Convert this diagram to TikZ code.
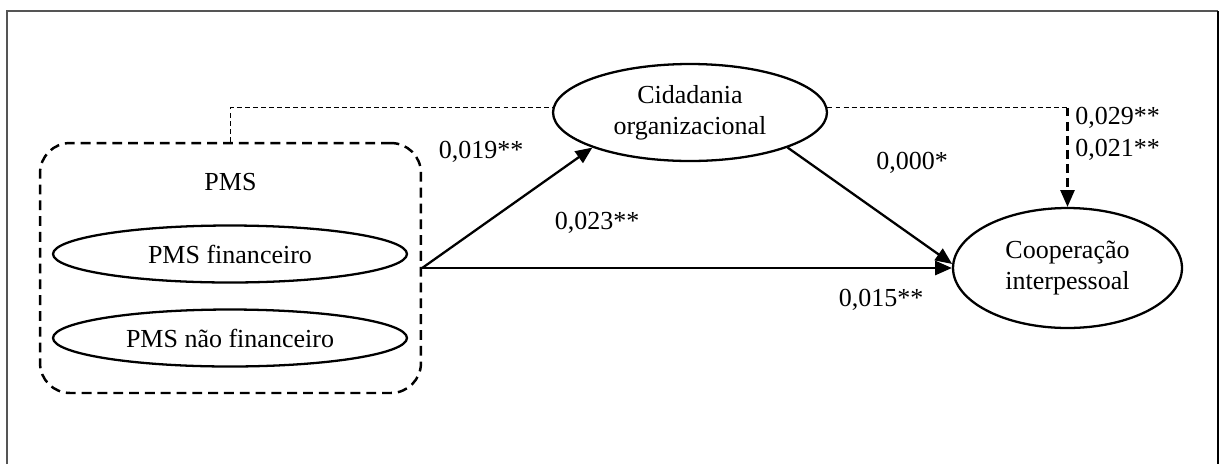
\documentclass[tikz,border=0pt]{standalone}
\usepackage{fontspec}
\setmainfont{Liberation Serif}
\usetikzlibrary{shapes.geometric,arrows.meta}
\definecolor{framegray}{HTML}{555555}
\begin{document}
\begin{tikzpicture}[x=0.02cm, y=-0.02cm,
    every node/.style={font=\fontsize{14.8}{17.5}\selectfont},
    latent/.style={draw, ellipse, line width=1.3pt, inner sep=0pt, align=center},
    pmsbox/.style={draw, rounded corners=0.6cm, line width=1.4pt, dash pattern=on 5.6pt off 3.4pt,
      minimum width=7.62cm, minimum height=5cm},
    effect/.style={line width=1.3pt, -{Triangle[length=9.5pt,width=8pt]}},
    link/.style={line width=0.55pt, dash pattern=on 2.8pt off 1.8pt}
  ]
    \useasboundingbox (0,0) rectangle (1219,464);

    % frame
    \draw[framegray, line width=1.1pt] (7,464) -- (7,11) -- (1218,11);
    \draw[black, line width=1.1pt] (1218,11) -- (1218,464);

    % boxes
    \node[pmsbox] (pms) at (230.5,268) {};
    \node (pmslabel) at (230.5,182) {PMS};
    \node[latent, minimum width=7.08cm, minimum height=1.14cm] (pmsfin) at (230,254) {PMS financeiro};
    \node[latent, minimum width=7.08cm, minimum height=1.14cm] (pmsnfin) at (230,338) {PMS não financeiro};
    \node[latent, minimum width=5.48cm, minimum height=1.94cm] (cid) at (690,112.5) {Cidadania\\organizacional};
    \node[latent, minimum width=4.58cm, minimum height=2.4cm] (coop) at (1067.5,268) {Cooperação\\interpessoal};

    % lines
    \coordinate (src) at (pms.east);
    \coordinate (rbend) at (cid.2 -| coop.north);
    \draw[link] (pms.north) |- (cid.178);
    \draw[link] (cid.2) -- (rbend);
    \draw[line width=1.2pt, dash pattern=on 5pt off 3pt, -{Triangle[length=9.5pt,width=8pt]}] (rbend) -- (coop.north);
    \draw[effect] (src) -- (cid.south west);
    \draw[effect] (cid.south east) -- (coop.178);
    \draw[effect] (src) -- (src -| coop.west);

    % labels
    \node (l019) at (481,152) {0,019**};
    \node (l023) at (597,223) {0,023**};
    \node (l000) at (912,163) {0,000*};
    \node (l015) at (881,300) {0,015**};
    \node[anchor=west, inner sep=0pt] (l029) at (1075,118) {0,029**};
    \node[anchor=west, inner sep=0pt] (l021) at (1075,150) {0,021**};
  \end{tikzpicture}
\end{document}
